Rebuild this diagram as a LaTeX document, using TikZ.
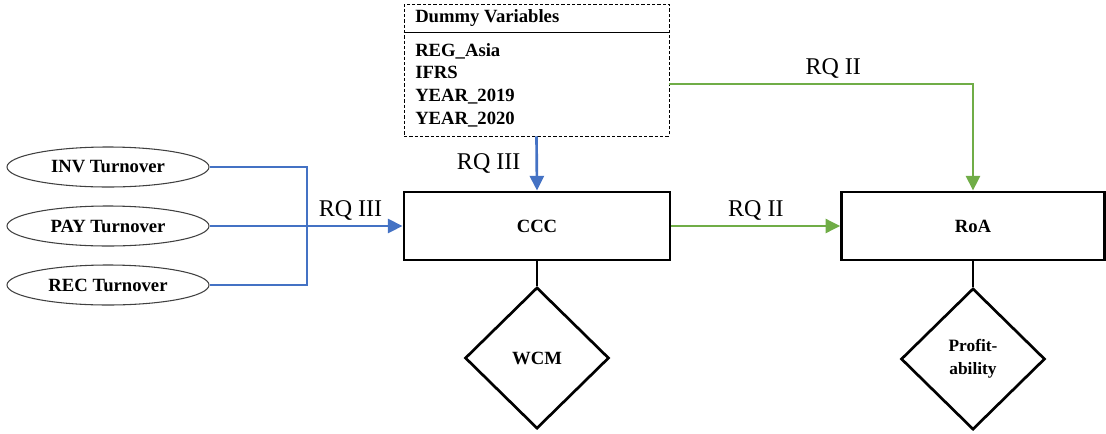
\documentclass[tikz,border=0pt]{standalone}
\usepackage{fontspec}
\setmainfont{Liberation Serif}
\usetikzlibrary{shapes,arrows.meta,positioning}
\definecolor{rqblue}{HTML}{4472C4}
\definecolor{rqgreen}{HTML}{70AD47}

\begin{document}
\begin{tikzpicture}[
    x=0.75pt, y=-0.75pt,
    oval/.style={ellipse, draw=black!75, line width=0.8pt, minimum width=151.5pt, minimum height=30pt, inner sep=0pt, font=\fontsize{14}{17}\selectfont\bfseries},
    block/.style={rectangle, draw, line width=2.2pt, minimum width=199.5pt, minimum height=51pt, font=\fontsize{14}{17}\selectfont\bfseries},
    measure/.style={diamond, draw, line width=2pt, minimum width=108pt, minimum height=106pt, inner sep=0pt, align=center, font=\fontsize{14}{17}\selectfont\bfseries},
    dummybox/.style={rectangle, draw, dash pattern=on 2.5pt off 1.5pt, line width=0.7pt, minimum width=198.75pt, minimum height=99pt},
    varlist/.style={inner sep=0pt, align=left, font=\fontsize{14}{17}\selectfont\bfseries},
    rq/.style={font=\fontsize{18}{22}\selectfont},
    blueline/.style={draw=rqblue, line width=2pt},
    greenline/.style={draw=rqgreen, line width=2pt},
    arrow/.style={-{Triangle[length=11pt,width=10.5pt]}}
]
\useasboundingbox (0,0) rectangle (1106,433);

% Turnover ratios
\node[oval] (inv) at (108,167) {INV Turnover};
\node[oval] (pay) at (108,226) {PAY Turnover};
\node[oval] (rec) at (108,285) {REC Turnover};
\coordinate (join) at (307,226);

% Main variables
\node[block] (ccc) at (537,226) {CCC};
\node[block, minimum width=197pt] (roa) at (973,226) {RoA};
\node[measure] (wcm) at (537,358) {WCM};
\node[measure, font=\fontsize{13}{17}\selectfont\bfseries] (prof) at (973,359) {Profit-\\ability};

% Dummy variables
\node[dummybox] (dummy) at (536.5,70) {};
\coordinate (sep) at (536.5,32);
\draw[line width=0.7pt] (dummy.west |- sep) -- (dummy.east |- sep);
\node[varlist, anchor=west] (dhead) at (415,18) {Dummy Variables};
\node[varlist, anchor=north west] (dlist) at (415,43) {REG\_Asia\\IFRS\\YEAR\_2019\\YEAR\_2020};
\coordinate (gstart) at (669,84);

% RQ III
\draw[blueline] (inv.east) -| (join);
\draw[blueline] (rec.east) -| (join);
\draw[blueline, arrow] (pay.east) -- (ccc.west) node[rq, above, pos=0.73] {RQ III};
\draw[blueline, arrow] (dummy.south) -- (ccc.north) node[rq, midway, left=8pt] {RQ III};

% RQ II
\draw[greenline, arrow] (ccc.east) -- (roa.west) node[rq, above, midway] {RQ II};
\draw[greenline, arrow] (gstart) -| (roa.north) node[rq, above, pos=0.27] {RQ II};

% Proxies
\draw[line width=2pt] (ccc.south) -- (wcm.north);
\draw[line width=2pt] (roa.south) -- (prof.north);

\end{tikzpicture}
\end{document}
